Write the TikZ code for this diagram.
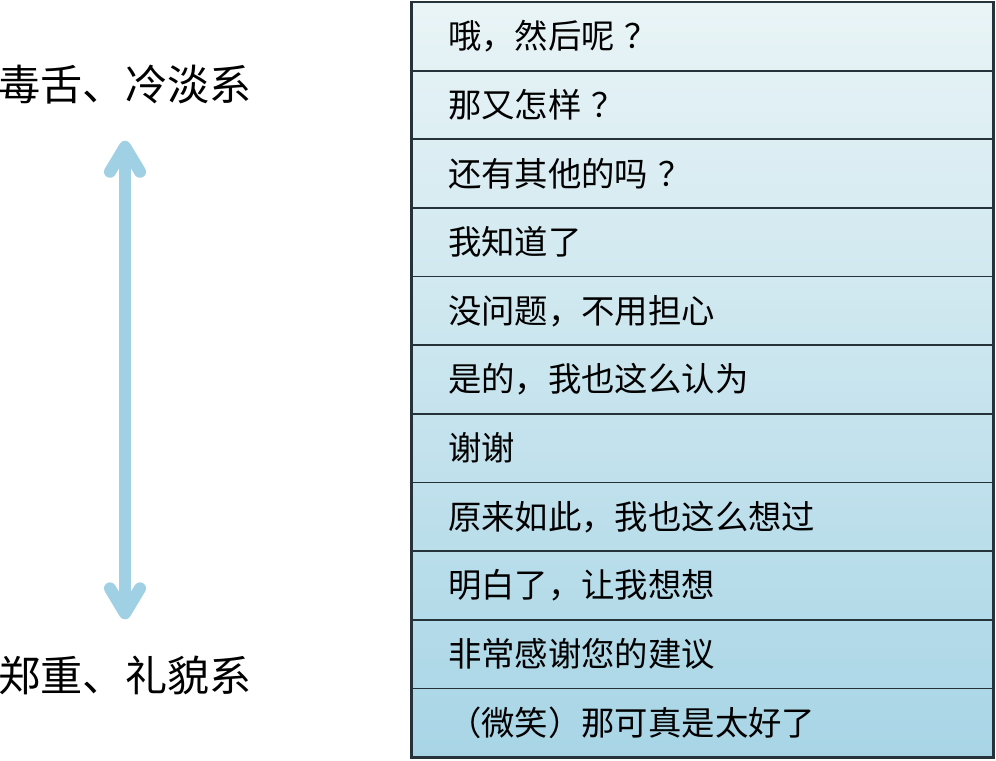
\documentclass[tikz,border=0pt]{standalone}
\usepackage{fontspec}
\setmainfont{Noto Sans CJK SC}
\usetikzlibrary{arrows.meta}
\definecolor{arrowblue}{HTML}{9FD0E4}
\definecolor{rowtop}{HTML}{E9F4F6}
\definecolor{rowmid}{HTML}{CFE7EF}
\definecolor{rowbot}{HTML}{A8D5E6}
\definecolor{rule}{HTML}{25323A}
\newcommand{\qmark}{\hspace{0.3em}？}
\begin{document}
\begin{tikzpicture}[x=0.02cm, y=-0.02cm,
    side/.style={font=\fontsize{24}{28}\selectfont},
    entry/.style={minimum width=11.64cm, minimum height=1.372cm, inner xsep=0.74cm,
        text width=10.16cm, align=left, draw=rule, line width=1pt,
        font=\fontsize{19}{22}\selectfont},
    twoway/.style={arrowblue, line width=0.24cm, line cap=round,
        {Straight Barb[round,length=0.5cm,width=0.6cm]}-{Straight Barb[round,length=0.5cm,width=0.6cm]},
        shorten <=0.6cm, shorten >=0.6cm}]
    \useasboundingbox[fill=white] (0,0) rectangle (996,760);
    % labels on the left
    \node[side] (cold) at (125,85) {毒舌、冷淡系};
    \node[side] (polite) at (125,675) {郑重、礼貌系};
    \draw[twoway] (cold.south) -- (polite.north);
    % the table
    \fill[top color=rowtop, middle color=rowmid, bottom color=rowbot] (411,2) rectangle (993,757);
    \foreach \txt [count=\i] in {哦，然后呢\qmark, 那又怎样\qmark, 还有其他的吗\qmark, 我知道了,
        没问题，不用担心, 是的，我也这么认为, 谢谢, 原来如此，我也这么想过,
        明白了，让我想想, 非常感谢您的建议, （微笑）那可真是太好了}
        \node[entry] (row\i) at (702, {2+68.64*(\i-0.5)}) {\txt};
    \draw[rule, line width=1.7pt] (411,2) rectangle (993,757);
\end{tikzpicture}
\end{document}
